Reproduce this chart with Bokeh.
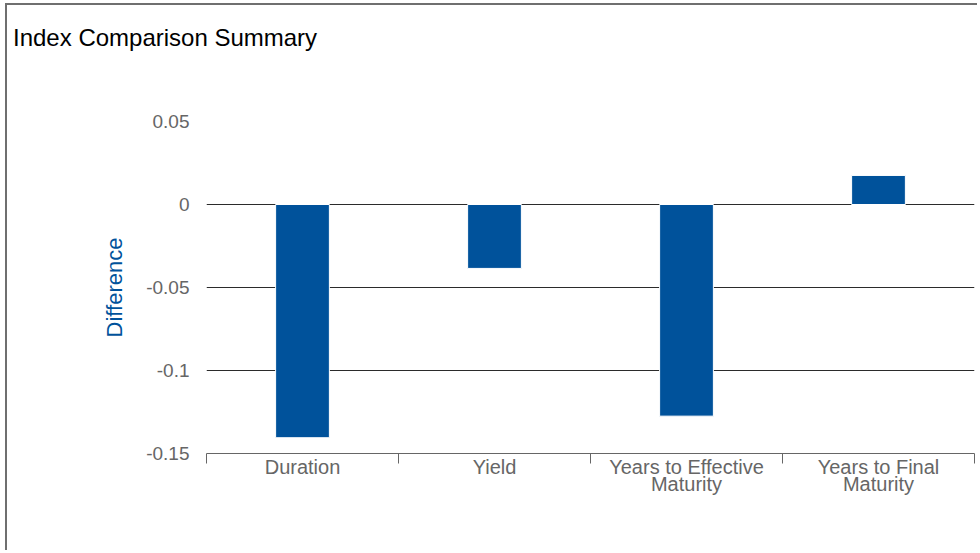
from bokeh.plotting import figure
from bokeh.models import FixedTicker, ColumnDataSource, Range1d, Div
from bokeh.layouts import column
from bokeh.embed import file_html
from bokeh.resources import INLINE

# ---- data ----
title_text = "Index Comparison Summary"
categories = ["Duration", "Yield", "Years to Effective Maturity", "Years to Final Maturity"]
category_labels = ["Duration", "Yield", "Years to Effective\nMaturity", "Years to Final\nMaturity"]
differences = [-0.1405, -0.0385, -0.1275, 0.0175]
y_ticks = [-0.15, -0.1, -0.05, 0, 0.05]
y_tick_labels = ["-0.15", "-0.1", "-0.05", "0", "0.05"]

FONT = "Liberation Sans"
BAR_COLOR = "#00529b"
TEXT_GRAY = "#666666"

W = 970
TITLE_H = 50
PLOT_H = 545 - TITLE_H

positions = [i + 0.5 for i in range(len(categories))]
source = ColumnDataSource(dict(x=positions, top=differences, cat=categories))

title_div = Div(
    text=title_text, width=W, height=TITLE_H, margin=0,
    styles={"font-family": "'Liberation Sans', Arial, sans-serif", "font-size": "24px",
            "color": "black", "padding-left": "6px", "padding-top": "19px",
            "line-height": "normal", "box-sizing": "border-box"},
)

p = figure(
    width=W, height=PLOT_H,
    x_range=Range1d(0, len(categories)),
    y_range=Range1d(y_ticks[0], y_ticks[-1]),
    output_backend="svg", toolbar_location=None,
    min_border_left=199, min_border_right=3,
    min_border_top=116 - TITLE_H, min_border_bottom=97,
)
p.outline_line_color = None
p.background_fill_color = "white"
p.border_fill_color = "white"

p.vbar(x="x", top="top", bottom=0, width=0.28, source=source,
       fill_color=BAR_COLOR, line_color="white", line_width=1)

# y axis
yax = p.yaxis[0]
yax.ticker = FixedTicker(ticks=y_ticks)
yax.major_label_overrides = {t: l for t, l in zip(y_ticks, y_tick_labels)}
yax.axis_line_color = None
yax.major_tick_line_color = None
yax.major_tick_out = 0
yax.major_tick_in = 0
yax.minor_tick_line_color = None
yax.minor_tick_out = 0
yax.major_label_text_font = FONT
yax.major_label_text_font_size = "19px"
yax.major_label_text_color = TEXT_GRAY
yax.major_label_standoff = 17
yax.axis_label = "Difference"
yax.axis_label_text_font = FONT
yax.axis_label_text_font_size = "22px"
yax.axis_label_text_font_style = "normal"
yax.axis_label_text_color = BAR_COLOR
yax.axis_label_standoff = 16

# x axis: labels at category centres, ticks at category boundaries
xax = p.xaxis[0]
xax.ticker = FixedTicker(ticks=positions, minor_ticks=list(range(len(categories) + 1)))
xax.major_label_overrides = {pos: lab for pos, lab in zip(positions, category_labels)}
xax.major_tick_line_color = None
xax.major_tick_out = 0
xax.major_tick_in = 0
xax.minor_tick_line_color = "#666666"
xax.minor_tick_out = 10
xax.minor_tick_in = 0
xax.axis_line_color = "#666666"
xax.axis_line_width = 1
xax.major_label_text_font = FONT
xax.major_label_text_font_size = "20px"
xax.major_label_text_color = TEXT_GRAY
xax.major_label_text_line_height = 0.78
xax.major_label_standoff = -8
xax.major_label_orientation = "horizontal"

p.xgrid.grid_line_color = None
p.ygrid.ticker = FixedTicker(ticks=y_ticks)
p.ygrid.grid_line_color = "#2b2b2b"
p.ygrid.grid_line_width = 1

layout = column(title_div, p, spacing=0,
                styles={"border-left": "2px solid #6f6f6f", "border-top": "2px solid #6f6f6f",
                        "margin-left": "5px", "margin-top": "3px", "background": "white"})

open("out.html", "w").write(file_html(layout, INLINE))
